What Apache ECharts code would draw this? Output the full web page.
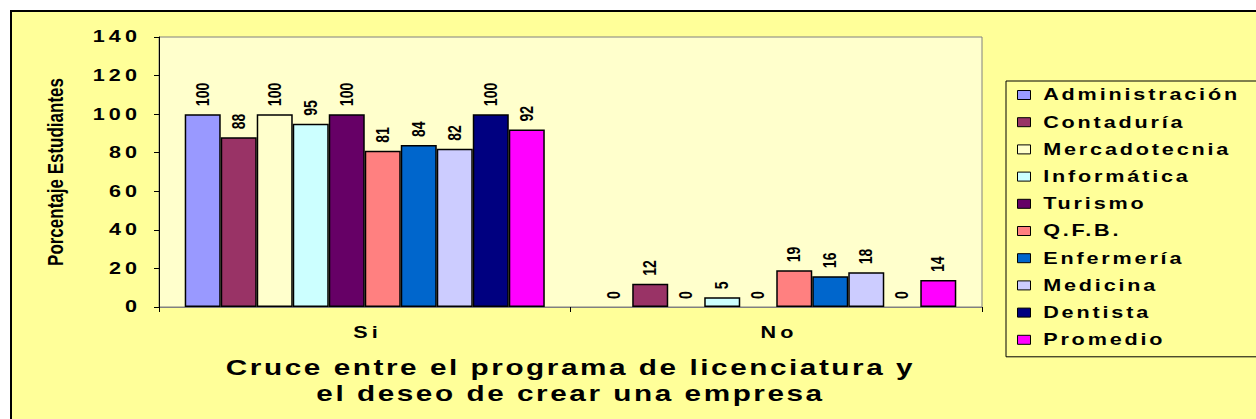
<!DOCTYPE html>
<html><head><meta charset="utf-8">
<script src="https://cdn.jsdelivr.net/npm/echarts@6/dist/echarts.min.js"></script>
<style>
html,body{margin:0;padding:0;background:#fff;overflow:hidden;}
#c{width:1256px;height:419px;}
#c svg text[style*="tck"]{letter-spacing:3px;}
#c svg text[style*="lgd"]{letter-spacing:2.1px;}
#c svg text[style*="ttl"]{letter-spacing:1.9px;}
</style></head><body><div id="c"></div>
<script>
const categories = ['Si', 'No'];
const seriesNames = ['Administración', 'Contaduría', 'Mercadotecnia', 'Informática', 'Turismo', 'Q.F.B.', 'Enfermería', 'Medicina', 'Dentista', 'Promedio'];
const siValues = [100, 88, 100, 95, 100, 81, 84, 82, 100, 92];
const noValues = [0, 12, 0, 5, 0, 19, 16, 18, 0, 14];
const seriesColors = ['#9999FF', '#993366', '#FFFFCC', '#CCFFFF', '#660066', '#FF8080', '#0066CC', '#CCCCFF', '#000080', '#FF00FF'];
const yTickValues = [0, 20, 40, 60, 80, 100, 120, 140];
const xAxisTitle = 'Cruce entre el programa de licenciatura y\nel deseo de crear una empresa';
const yAxisTitle = 'Porcentaje Estudiantes';

// unknown trailing family names only mark text groups for the CSS / stretch rules below
const fam = m => "'Liberation Sans', Arial, sans-serif, " + m;

const el = document.getElementById('c');
const chart = echarts.init(el, null, {renderer: 'svg'});

const series = seriesNames.map((name, i) => ({
  name: name,
  type: 'bar',
  barGap: 0,
  barCategoryGap: '12.5%',
  itemStyle: {color: seriesColors[i], borderColor: '#000', borderWidth: 1.5},
  label: {
    show: true, position: 'top', rotate: 90, align: 'left', verticalAlign: 'middle',
    distance: 8, fontFamily: fam('blb'), fontWeight: 'bold', fontSize: 14, color: '#000'
  },
  data: [siValues[i], noValues[i]].map(v => v === 0 ? {value: 0, itemStyle: {borderWidth: 0}} : v)
}));

chart.setOption({
  backgroundColor: 'transparent',
  animation: false,
  graphic: [{
    type: 'rect', z: -10, silent: true,
    shape: {x: 11, y: 11, width: 1400, height: 600},
    style: {fill: '#FFFF99', stroke: '#000', lineWidth: 2}
  }],
  grid: {
    left: 159, right: 274, top: 37, bottom: 112,
    show: true, backgroundColor: '#FFFFCC', borderColor: '#808080', borderWidth: 1
  },
  legend: {
    orient: 'vertical', left: 1006, top: 81,
    icon: 'rect', itemWidth: 13, itemHeight: 9, itemGap: 9.2,
    padding: [5, 300, 8, 11],
    backgroundColor: '#FFFF99', borderColor: '#000', borderWidth: 1,
    itemStyle: {borderColor: '#000', borderWidth: 1},
    textStyle: {fontFamily: fam('lgd'), fontWeight: 'bold', fontSize: 16, color: '#000', lineHeight: 18, padding: [0, 0, 0, 1]},
    data: seriesNames
  },
  xAxis: {
    type: 'category', data: categories,
    axisLine: {lineStyle: {color: '#808080', width: 1}},
    axisTick: {show: true, length: 5, lineStyle: {color: '#000'}},
    axisLabel: {fontFamily: fam('tck'), fontWeight: 'bold', fontSize: 16, color: '#000', margin: 18, padding: [0, 0, 0, 4]},
    name: xAxisTitle, nameLocation: 'middle', nameGap: 47,
    nameTextStyle: {fontFamily: fam('ttl'), fontWeight: 'bold', fontSize: 22, lineHeight: 26, color: '#000'}
  },
  yAxis: {
    type: 'value', min: yTickValues[0], max: yTickValues[yTickValues.length - 1], interval: yTickValues[1] - yTickValues[0],
    axisLine: {show: true, lineStyle: {color: '#000', width: 1}},
    axisTick: {show: true, length: 5, lineStyle: {color: '#000'}},
    splitLine: {show: false},
    axisLabel: {fontFamily: fam('tck'), fontWeight: 'bold', fontSize: 16, color: '#000', margin: 18},
    name: yAxisTitle, nameLocation: 'middle', nameRotate: 90, nameGap: 93,
    nameTextStyle: {fontFamily: fam('ynm'), fontWeight: 'bold', fontSize: 17, color: '#000'}
  },
  series: series
});

// widen the glyphs horizontally (the reference text is stretched sideways)
const stretch = [['tck', 'scale(1.35 1)'], ['lgd', 'scale(1.35 1)'], ['ttl', 'scale(1.35 1)'], ['blb', 'scale(1 1.25)'], ['ynm', 'scale(1 1.3)']];
function applyStretch() {
  el.querySelectorAll('svg text').forEach(t => {
    const st = t.getAttribute('style') || '';
    const tr = t.getAttribute('transform') || '';
    if (tr.indexOf('scale(') >= 0) return;
    for (const [m, s] of stretch) {
      if (st.indexOf(m) >= 0) { t.setAttribute('transform', (tr + ' ' + s).trim()); break; }
    }
  });
}
applyStretch();
new MutationObserver(applyStretch).observe(el, {subtree: true, childList: true, attributes: true, attributeFilter: ['transform', 'style']});
</script></body></html>
